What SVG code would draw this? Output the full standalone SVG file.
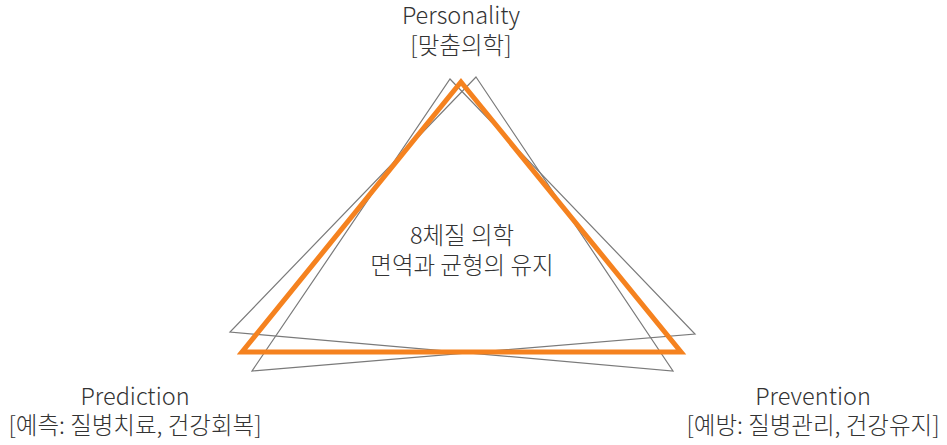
<svg xmlns="http://www.w3.org/2000/svg" width="947" height="445" viewBox="0 0 947 445">
<style>
.t{font-family:"Noto Sans CJK KR","Noto Sans",sans-serif;font-weight:300;fill:#333;text-anchor:middle}
.e{font-size:23.5px}
.k{font-size:23.5px}
.g{fill:none;stroke:#7a7a7a;stroke-width:1.2}
.o{fill:none;stroke:#F5821F;stroke-width:5}
</style>
<rect width="947" height="445" fill="#fff"/>
<g id="connectors">
<polygon class="g" points="476,77 673,371 230,332"/>
<polygon class="g" points="450,79 695,334 252,371"/>
<polygon class="o" points="461,82 681,352 242,352"/>
</g>
<g id="personality">
<text class="t"><tspan class="e" x="461" y="24">Personality</tspan><tspan class="k" x="461" y="54">[맞춤의학]</tspan></text>
</g>
<g id="prediction">
<text class="t"><tspan class="e" x="135" y="405">Prediction</tspan><tspan class="k" x="135" y="434">[예측: 질병치료, 건강회복]</tspan></text>
</g>
<g id="prevention">
<text class="t"><tspan class="e" x="813" y="405">Prevention</tspan><tspan class="k" x="813" y="434">[예방: 질병관리, 건강유지]</tspan></text>
</g>
<g id="center">
<text class="t k"><tspan x="462" y="244">8체질 의학</tspan><tspan x="462" y="274">면역과 균형의 유지</tspan></text>
</g>
</svg>
